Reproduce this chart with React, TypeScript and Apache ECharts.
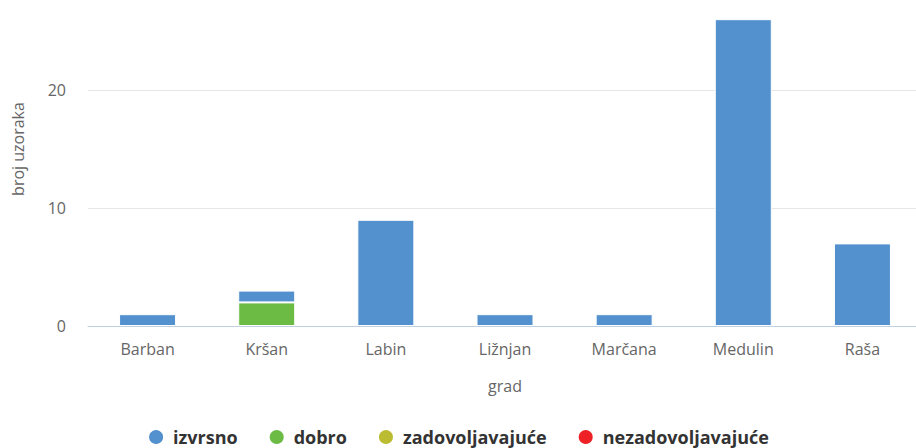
import React, { useEffect, useRef } from "react";
import * as echarts from "echarts";

const categories = ["Barban", "Kršan", "Labin", "Ližnjan", "Marčana", "Medulin", "Raša"];
const izvrsno = [1, 1, 9, 1, 1, 26, 7];
const dobro = [0, 2, 0, 0, 0, 0, 0];
const zadovoljavajuce = [0, 0, 0, 0, 0, 0, 0];
const nezadovoljavajuce = [0, 0, 0, 0, 0, 0, 0];
const seriesNames = ["izvrsno", "dobro", "zadovoljavajuće", "nezadovoljavajuće"];
const colors = ["#5290ce", "#6cbb45", "#bcbc32", "#ee2127"];

const FONT = "'Open Sans', sans-serif";

export default function App() {
  const ref = useRef<HTMLDivElement>(null);
  useEffect(() => {
    if (!ref.current) return;
    const chart = echarts.init(ref.current, undefined, { renderer: "svg" });
    const toData = (arr: number[]) => arr.map((v) => (v === 0 ? "-" : v));
    const mk = (name: string, data: number[], color: string) => ({
      name,
      type: "bar",
      stack: "total",
      barWidth: 57,
      data: toData(data),
      itemStyle: { color, borderColor: "#ffffff", borderWidth: 1 },
    });
    chart.setOption({
      animation: false,
      textStyle: { fontFamily: FONT },
      grid: {
        left: 88,
        width: 834,
        top: -28,
        height: 354,
        containLabel: false,
        outerBoundsMode: "none",
      },
      legend: {
        data: seriesNames.map((n) => ({ name: n, icon: "circle" })),
        top: 423,
        left: "center",
        itemWidth: 16,
        itemHeight: 16,
        itemGap: 30,
        textStyle: {
          fontFamily: FONT,
          fontSize: 18,
          fontWeight: "bold",
          color: "#333333",
          padding: [0, 0, 0, 4],
        },
      },
      xAxis: {
        type: "category",
        data: categories,
        name: "grad",
        nameLocation: "middle",
        nameGap: 52,
        nameTextStyle: { fontSize: 16, color: "#666666", fontFamily: FONT },
        axisLine: { lineStyle: { color: "#c0d0e0", width: 1 } },
        axisTick: { length: 14, lineStyle: { color: "#c0d0e0" } },
        axisLabel: { fontSize: 16, color: "#666666", margin: 15, fontFamily: FONT },
      },
      yAxis: {
        type: "value",
        min: 0,
        max: 30,
        interval: 10,
        name: "broj uzoraka",
        nameLocation: "middle",
        nameGap: 62,
        nameRotate: 90,
        nameTextStyle: { fontSize: 16, color: "#666666", fontFamily: FONT },
        axisLine: { show: false },
        axisTick: { show: false },
        axisLabel: { fontSize: 16, color: "#666666", margin: 22, fontFamily: FONT, showMaxLabel: false },
        splitLine: { lineStyle: { color: "#e6e6e6", width: 1 } },
      },
      series: [
        mk(seriesNames[1], dobro, colors[1]),
        mk(seriesNames[2], zadovoljavajuce, colors[2]),
        mk(seriesNames[3], nezadovoljavajuce, colors[3]),
        mk(seriesNames[0], izvrsno, colors[0]),
      ],
    });
    return () => chart.dispose();
  }, []);
  return (
    <div
      ref={ref}
      style={{ position: "fixed", left: 0, top: 0, width: 916, height: 448, background: "#fff" }}
    />
  );
}
